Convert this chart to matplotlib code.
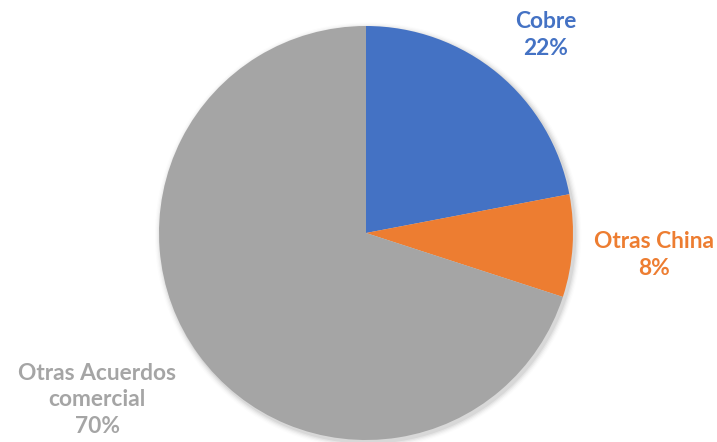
import matplotlib.pyplot as plt
from matplotlib.patches import Circle

categorias = ['Cobre', 'Otras China', 'Otras Acuerdos\ncomercial']
valores = [22, 8, 70]
colores = ['#4472C4', '#ED7D31', '#A5A5A5']

W, H = 717, 442
fig = plt.figure(figsize=(W / 100, H / 100), dpi=100)

# pie centered at (366, 233) px with radius 207 px
cx, cy, r = 366, 233, 207
pad = 1.05
ax = fig.add_axes([(cx - r * pad) / W, (H - cy - r * pad) / H,
                   2 * r * pad / W, 2 * r * pad / H])

# soft shadow under the pie
for i, a in enumerate([0.05, 0.04, 0.03, 0.02, 0.01]):
    ax.add_patch(Circle((0.01, -0.012), 1.0 + 0.006 * (i + 1), color='black',
                        alpha=a, lw=0, zorder=0))

ax.pie(valores, colors=colores, startangle=90, counterclock=False, radius=1.0,
       wedgeprops=dict(linewidth=0))
ax.set_xlim(-pad, pad)
ax.set_ylim(-pad, pad)
ax.set_aspect('equal')
ax.axis('off')

# label positions in pixels (center of text block)
posiciones = [(546, 35), (654, 255), (97, 400)]
for cat, val, col, (px, py) in zip(categorias, valores, colores, posiciones):
    fig.text(px / W, 1 - py / H, f'{cat}\n{val}%', color=col, fontsize=16.4,
             fontweight='bold', family='Lato', ha='center', va='center',
             linespacing=1.3)

fig.savefig('out.png', dpi=100)
